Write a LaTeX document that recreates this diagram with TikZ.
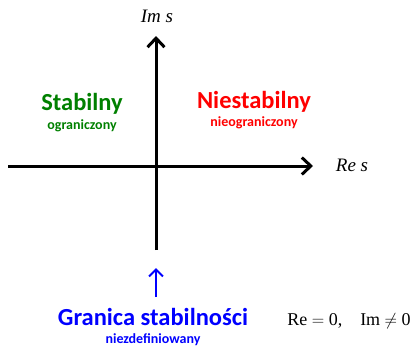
\documentclass[tikz,border=0pt]{standalone}
\usepackage{fontspec}
\setmainfont{Liberation Serif}
\newfontfamily\labelfont{Carlito}
\usepackage{xcolor}
\usetikzlibrary{arrows.meta,positioning}
\definecolor{stabgreen}{RGB}{0,128,0}
\definecolor{unstred}{RGB}{255,0,0}
\definecolor{bndblue}{RGB}{0,0,255}

\begin{document}
\begin{tikzpicture}[x=1pt, y=-1pt,
    axis/.style={line width=3pt, -{Straight Barb[length=9pt, width=17pt, line width=3pt]}},
    region/.style={font=\labelfont\bfseries\fontsize{24.5}{27}\selectfont, anchor=base},
    subnote/.style={font=\labelfont\bfseries\fontsize{14}{16}\selectfont, anchor=base},
    axlabel/.style={font=\itshape\fontsize{19}{21}\selectfont}
]
\useasboundingbox (0,0) rectangle (415,346);
% axes
\coordinate (origin) at (156,166);
\coordinate (xl) at (8,166);
\coordinate (xr) at (313,166);
\coordinate (yb) at (156,250);
\coordinate (yt) at (156,36);
\draw[axis] (xl) -- (xr);
\draw[axis] (yb) -- (yt);
\node[axlabel] (im) at (157,16) {Im s};
\node[axlabel] (re) at (352,165) {Re s};
% regions
\node[region, text=stabgreen] (stab) at (82,110) {Stabilny};
\node[subnote, text=stabgreen] (stabsub) at (82,129) {ograniczony};
\node[region, text=unstred] (nstab) at (254,108) {Niestabilny};
\node[subnote, text=unstred] (nstabsub) at (254,126) {nieograniczony};
% boundary
\node[region, text=bndblue] (gran) at (153,325) {Granica stabilności};
\node[subnote, text=bndblue] (gransub) at (153,343) {niezdefiniowany};
\coordinate (tip) at (156,268);
\coordinate (tail) at (156,297);
\draw[bndblue, line width=2pt, -{Straight Barb[length=7pt, width=14pt, line width=2pt]}] (tail) -- (tip);
\node[anchor=base, font=\fontsize{18}{20}\selectfont] (cond) at (349,325) {Re $=$ 0,\quad Im $\neq$ 0};
\end{tikzpicture}
\end{document}
